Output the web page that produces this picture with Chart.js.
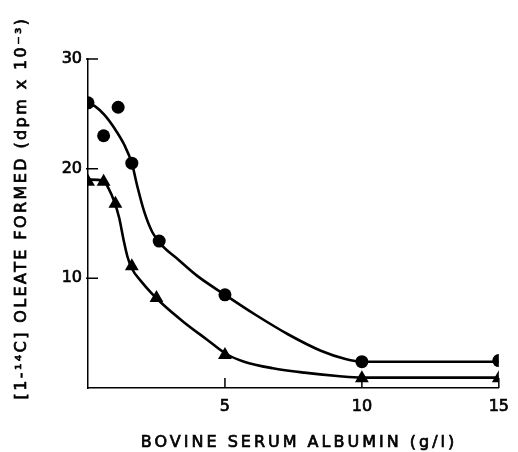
<!DOCTYPE html>
<html><head><meta charset="utf-8">
<script src="https://cdn.jsdelivr.net/npm/chart.js@4"></script>
<style>html,body{margin:0;padding:0;background:#fff}canvas{display:block}</style>
</head><body>
<canvas id="c" width="518" height="452"></canvas>
<script>
// Data
const xTicks = [5, 10, 15];
const yTicks = [10, 20, 30];
const circleX = [0, 0.57, 1.1, 1.6, 2.6, 5, 10, 15];
const circleY = [26, 23, 25.6, 20.5, 13.4, 8.5, 2.4, 2.5];
const triX = [0, 0.57, 1.0, 1.6, 2.5, 5, 10, 15];
const triY = [18.8, 18.8, 16.8, 11.1, 8.2, 3.0, 0.9, 0.9];
// hand-drawn fitted curves
const circleCurveX = [0, 0.25, 0.6, 0.96, 1.32, 1.6, 1.8, 2.05, 2.35, 2.7, 3.3, 4.0, 5.0, 6.1, 7.3, 8.5, 9.4, 10, 15];
const circleCurveY = [26, 25.7, 24.9, 23.7, 22.2, 20.5, 18.4, 16.1, 14.2, 13.0, 11.7, 10.2, 8.5, 6.7, 4.9, 3.4, 2.65, 2.4, 2.4];
const triCurveX = [0, 0.57, 0.75, 0.96, 1.14, 1.3, 1.45, 1.6, 1.95, 2.3, 2.7, 3.5, 4.35, 5.05, 5.7, 6.75, 7.9, 9.1, 10, 15];
const triCurveY = [19, 18.9, 18.2, 17.0, 15.5, 13.5, 11.9, 10.9, 9.7, 8.7, 7.7, 6.0, 4.4, 3.1, 2.4, 1.8, 1.4, 1.1, 0.95, 0.95];

const xTitle = 'BOVINE SERUM ALBUMIN (g/l)';
const yTitle = '[1-\u00b9\u2074C] OLEATE FORMED (dpm x 10\u207b\u00b3)';

const pts = (xs, ys) => xs.map((x, i) => ({x, y: ys[i]}));
const FONT = 'DejaVu Sans';

const decor = {
  id: 'decor',
  afterDraw(chart) {
    const ctx = chart.ctx, xs = chart.scales.x, ys = chart.scales.y;
    const a = chart.chartArea;
    ctx.save();
    // inward tick marks
    ctx.strokeStyle = '#000'; ctx.lineWidth = 1.5;
    ctx.beginPath();
    xTicks.forEach(v => { const p = xs.getPixelForValue(v); ctx.moveTo(p, a.bottom); ctx.lineTo(p, a.bottom - 10); });
    yTicks.forEach(v => { const p = ys.getPixelForValue(v); ctx.moveTo(a.left - 2, p); ctx.lineTo(a.left + 10, p); });
    ctx.stroke();
    // axis titles (letter-spaced, slightly heavy like the print)
    ctx.fillStyle = '#000';
    ctx.lineWidth = 0.7;
    ctx.font = '16px "' + FONT + '"';
    ctx.textAlign = 'center'; ctx.textBaseline = 'middle';
    ctx.letterSpacing = '3px';
    ctx.fillText(xTitle, 299, 443);
    ctx.strokeText(xTitle, 299, 443);
    ctx.letterSpacing = '2.4px';
    ctx.translate(22, 208);
    ctx.rotate(-Math.PI / 2);
    ctx.fillText(yTitle, 0, 0);
    ctx.strokeText(yTitle, 0, 0);
    ctx.restore();
  }
};

new Chart(document.getElementById('c'), {
  type: 'scatter',
  data: {
    datasets: [
      { data: pts(circleCurveX, circleCurveY), showLine: true, cubicInterpolationMode: 'monotone',
        borderColor: '#000', borderWidth: 2.6, pointRadius: 0, fill: false },
      { data: pts(triCurveX, triCurveY), showLine: true, cubicInterpolationMode: 'monotone',
        borderColor: '#000', borderWidth: 2.6, pointRadius: 0, fill: false },
      { data: pts(circleX, circleY), pointStyle: 'circle', pointRadius: 6.5,
        backgroundColor: '#000', borderColor: '#000', borderWidth: 0 },
      { data: pts(triX, triY), pointStyle: 'triangle', pointRadius: 8,
        backgroundColor: '#000', borderColor: '#000', borderWidth: 0 }
    ]
  },
  options: {
    responsive: false, animation: false, devicePixelRatio: 1,
    layout: { padding: { top: 59, right: 10, left: 0, bottom: 0 } },
    plugins: { legend: { display: false }, tooltip: { enabled: false } },
    scales: {
      x: {
        type: 'linear', min: 0, max: 15,
        afterFit(s) { s.height = 64; },
        afterBuildTicks(s) { s.ticks = xTicks.map(v => ({value: v})); },
        grid: { display: false, drawTicks: false, tickLength: 0 },
        border: { color: '#000', width: 1.5 },
        ticks: { color: '#000', font: { family: FONT, size: 16 }, padding: 9, maxRotation: 0,
                 textStrokeColor: '#000', textStrokeWidth: 0.7 }
      },
      y: {
        type: 'linear', min: 0, max: 30,
        afterFit(s) { s.width = 88; },
        afterBuildTicks(s) { s.ticks = yTicks.map(v => ({value: v})); },
        grid: { display: false, drawTicks: false, tickLength: 0 },
        border: { color: '#000', width: 1.5 },
        ticks: { color: '#000', font: { family: FONT, size: 16 }, padding: 6,
                 textStrokeColor: '#000', textStrokeWidth: 0.7 }
      }
    }
  },
  plugins: [decor]
});
</script>
</body></html>
